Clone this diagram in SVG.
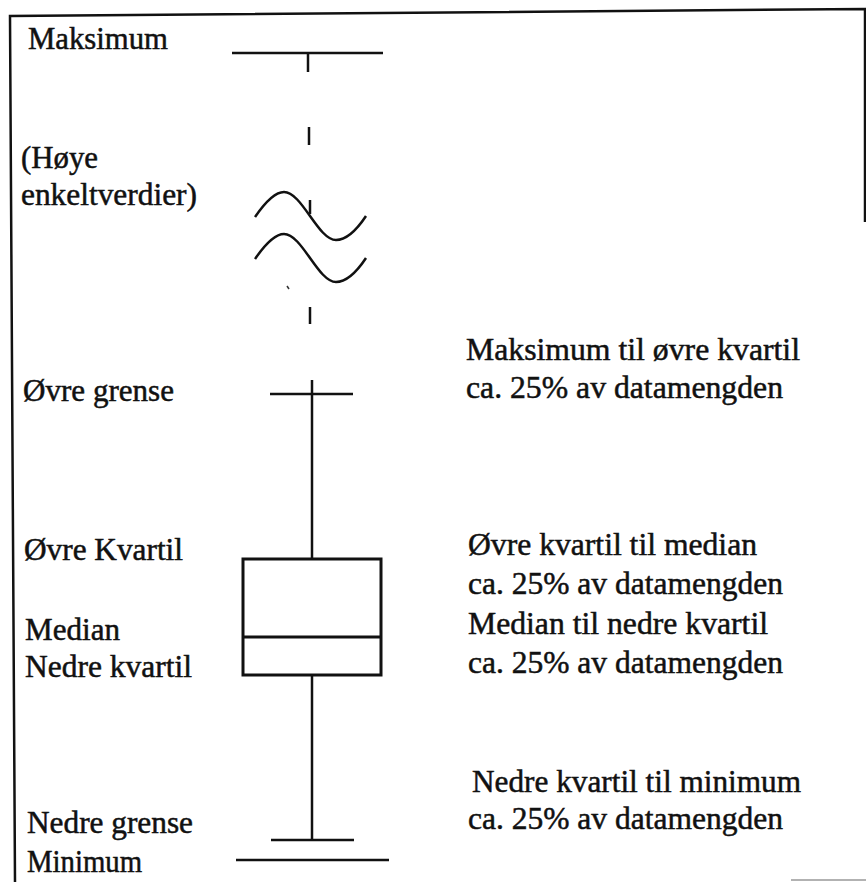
<svg xmlns="http://www.w3.org/2000/svg" width="866" height="882" viewBox="0 0 866 882">
<style>
text{font-family:'Liberation Serif','Times New Roman',Times,serif;font-size:31px;fill:#111;stroke:#111;stroke-width:0.5}
.ln{stroke:#111;stroke-width:2.5;fill:none;stroke-linecap:butt}
.box{stroke:#111;stroke-width:3;fill:none}
</style>
<rect width="866" height="882" fill="#fff"/>
<g id="frame">
<polyline class="ln" points="15,882 10,16 865,9 865,222"/>
<line x1="791" y1="880" x2="866" y2="880" stroke="#999" stroke-width="1.5"/>
</g>
<g id="labels-left" font-family="Liberation Serif, serif">
<text x="28" y="49" textLength="140" lengthAdjust="spacingAndGlyphs">Maksimum</text>
<text x="21" y="168" textLength="77" lengthAdjust="spacingAndGlyphs">(Høye</text>
<text x="21" y="205" textLength="176" lengthAdjust="spacingAndGlyphs">enkeltverdier)</text>
<text x="23" y="401" textLength="151" lengthAdjust="spacingAndGlyphs">Øvre grense</text>
<text x="24" y="560" textLength="159" lengthAdjust="spacingAndGlyphs">Øvre Kvartil</text>
<text x="25" y="640" textLength="95" lengthAdjust="spacingAndGlyphs">Median</text>
<text x="25" y="677" textLength="167" lengthAdjust="spacingAndGlyphs">Nedre kvartil</text>
<text x="27" y="833" textLength="166" lengthAdjust="spacingAndGlyphs">Nedre grense</text>
<text x="27" y="872" textLength="115" lengthAdjust="spacingAndGlyphs">Minimum</text>
</g>
<g id="labels-right" font-family="Liberation Serif, serif">
<text x="466" y="360" textLength="334" lengthAdjust="spacingAndGlyphs">Maksimum til øvre kvartil</text>
<text x="466" y="398" textLength="317" lengthAdjust="spacingAndGlyphs">ca. 25% av datamengden</text>
<text x="468" y="555" textLength="289" lengthAdjust="spacingAndGlyphs">Øvre kvartil til median</text>
<text x="468" y="594" textLength="315" lengthAdjust="spacingAndGlyphs">ca. 25% av datamengden</text>
<text x="468" y="634" textLength="300" lengthAdjust="spacingAndGlyphs">Median til nedre kvartil</text>
<text x="468" y="673" textLength="315" lengthAdjust="spacingAndGlyphs">ca. 25% av datamengden</text>
<text x="472" y="792" textLength="329" lengthAdjust="spacingAndGlyphs">Nedre kvartil til minimum</text>
<text x="468" y="829" textLength="315" lengthAdjust="spacingAndGlyphs">ca. 25% av datamengden</text>
</g>
<g id="boxplot">
<line class="ln" x1="232" y1="53" x2="383" y2="53"/>
<line class="ln" x1="270" y1="394" x2="353" y2="394"/>
<rect class="box" x="243" y="559" width="138" height="116"/>
<line class="box" x1="243" y1="637" x2="381" y2="637"/>
<line class="ln" x1="271" y1="840" x2="354" y2="840"/>
<line class="ln" x1="236" y1="860" x2="389" y2="860" stroke-width="3.5"/>
</g>
<g id="break-symbol">
<path class="ln" d="M255,217 C266,201 275,192 284,192 C302,192 318,240 336,240 C348,240 358,228 366,216"/>
<path class="ln" d="M255,259 C266,243 275,234 284,234 C302,234 318,282 336,282 C348,282 358,270 366,258"/>
</g>
<g id="connectors">
<line class="ln" x1="308" y1="53" x2="308" y2="72"/>
<line class="ln" x1="309" y1="127" x2="309" y2="145"/>
<line class="ln" x1="310" y1="200" x2="310" y2="214"/>
<line x1="287" y1="286" x2="289" y2="289" stroke="#333" stroke-width="1.5"/>
<line class="ln" x1="310" y1="307" x2="310" y2="324"/>
<line class="ln" x1="312" y1="380" x2="312" y2="559"/>
<line class="ln" x1="312" y1="675" x2="312" y2="840"/>
</g>
</svg>
